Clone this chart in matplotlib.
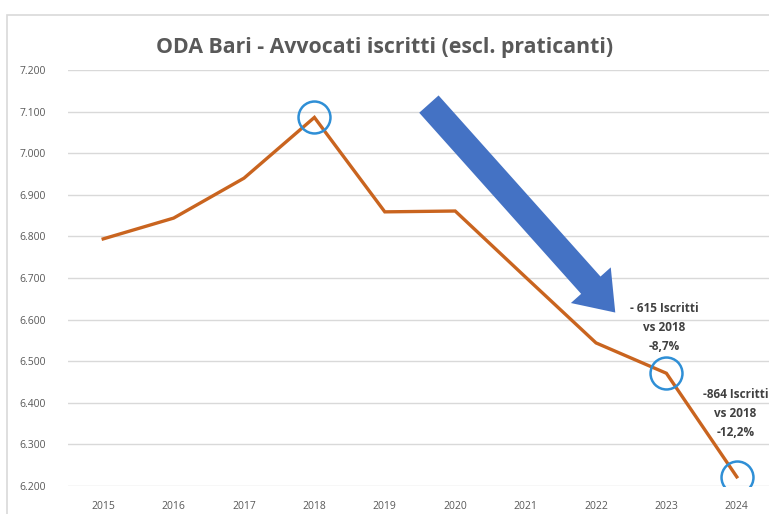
import matplotlib
matplotlib.use("Agg")
import matplotlib.pyplot as plt
from matplotlib.patches import Rectangle

years = ["2015", "2016", "2017", "2018", "2019", "2020", "2021", "2022", "2023", "2024"]
iscritti = [6794, 6844, 6940, 7086, 6859, 6861, 6702, 6544, 6471, 6222]
yticks = [6200, 6300, 6400, 6500, 6600, 6700, 6800, 6900, 7000, 7100, 7200]
ytick_labels = ["6.200", "6.300", "6.400", "6.500", "6.600", "6.700", "6.800", "6.900", "7.000", "7.100", "7.200"]
circled = ["2018", "2023", "2024"]
note_2023 = "- 615 Iscritti\nvs 2018\n-8,7%"
note_2024 = "-864 Iscritti\nvs 2018\n-12,2%"
title = "ODA Bari - Avvocati iscritti (escl. praticanti)"

plt.rcParams['font.family'] = ['Open Sans', 'DejaVu Sans']
W, H = 769, 514
fig = plt.figure(figsize=(W / 100, H / 100), dpi=100)
fig.patch.set_facecolor("white")

# outer chart frame
fig.patches.append(Rectangle((7 / W, -0.1), 1.2, 1 - 15 / H + 0.1, transform=fig.transFigure,
                             fill=False, edgecolor="#d9d9d9", linewidth=1.2))

ax = fig.add_axes([68 / W, 1 - 486 / H, 704 / W, (486 - 70) / H])
x = list(range(len(years)))
ax.plot(x, iscritti, color="#C9641F", linewidth=2.4, zorder=3, solid_joinstyle="miter")
ax.set_xlim(-0.5, len(years) - 0.5)
ax.set_ylim(6200, 7200)
ax.set_yticks(yticks)
ax.set_yticklabels(ytick_labels)
ax.set_xticks(x)
ax.set_xticklabels(years)
ax.grid(axis="y", color="#d9d9d9", linewidth=1)
ax.set_axisbelow(True)
for s in ax.spines.values():
    s.set_visible(False)
ax.tick_params(axis="both", length=0, labelsize=7.5, colors="#595959")
ax.tick_params(axis="y", pad=16)
ax.tick_params(axis="x", pad=11)

# circles
for yr in circled:
    i = years.index(yr)
    ax.plot(i, iscritti[i], marker="o", markersize=23, markerfacecolor="none",
            markeredgecolor="#2F8FD6", markeredgewidth=1.8, zorder=4)

# big arrow
ax.annotate("", xy=(7.3, 6612), xytext=(4.6, 7123),
            arrowprops=dict(arrowstyle="simple,head_length=1.2,head_width=1.75,tail_width=0.85",
                            mutation_scale=22, color="#4472C4", lw=0), zorder=2)

ax.text(7.97, 6580, note_2023, ha="center", va="center", fontsize=8.5, fontweight="bold",
        color="#404040", linespacing=1.6)
ax.text(8.98, 6375, note_2024, ha="center", va="center", fontsize=8.5, fontweight="bold",
        color="#404040", linespacing=1.6)

fig.text(385 / W, 1 - 47 / H, title, ha="center", va="center", fontsize=15.3,
         fontweight="bold", color="#595959")

fig.savefig("out.png", dpi=100)
